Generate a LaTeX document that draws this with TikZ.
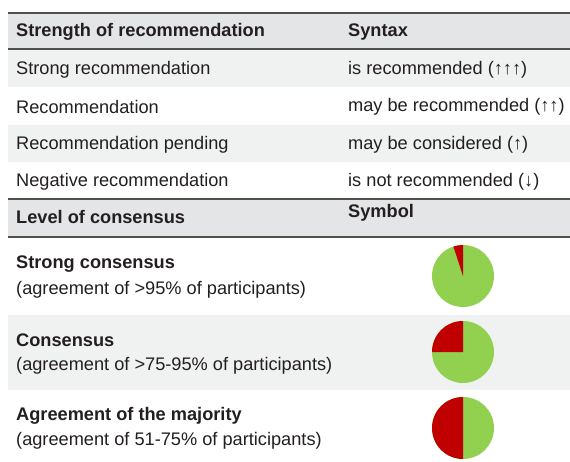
\documentclass[tikz,border=0pt]{standalone}
\usepackage{fontspec}
\setmainfont{Liberation Sans}
\usepackage{xcolor}
\usetikzlibrary{calc,positioning}
\definecolor{color_header}{HTML}{e4e5e7}
\definecolor{color_shaded}{HTML}{f0f1f1}
\definecolor{color_rule}{HTML}{50504c}
\definecolor{color_text}{HTML}{231f20}
\definecolor{color_agree}{HTML}{92d050}
\definecolor{color_disagree}{HTML}{c00000}

\tikzset{
	cell/.style={anchor=west,inner sep=0pt,text=color_text,font=\fontsize{18.2}{21}\selectfont},
	headcell/.style={cell,font=\fontsize{18.2}{21}\selectfont\bfseries},
	rule/.style={line width=1.6pt,color_rule}
}

\begin{document}
\begin{tikzpicture}[x=1pt,y=1pt]
				\useasboundingbox (0, 0) rectangle (570, 461);
				% Corners
				\coordinate (TL) at (8, 448);
				\coordinate (TR) at (570, 448);

				% Backgrounds
				\fill[color_header] (8, 448) rectangle (570, 412);
				\fill[color_shaded] (8, 412) rectangle (570, 374);
				\fill[color_shaded] (8, 336) rectangle (570, 299);
				\fill[color_header] (8, 262) rectangle (570, 224);
				\fill[color_shaded] (8, 146) rectangle (570, 71);

				% Rules
				\draw[rule] (TL) -- (TR);
				\draw[rule] (8, 412) -- (570, 412);
				\draw[rule] (8, 262) -- (570, 262);
				\draw[rule] (8, 224) -- (570, 224);

				% Recommendation
				\node[headcell] (hdStrength) at (16, 429) {Strength of recommendation};
				\node[headcell] (hdSyntax) at (348, 429) {Syntax};
				\node[cell] (strongRec) at (16, 391) {Strong recommendation};
				\node[cell] (strongSyn) at (348, 391) {is recommended (↑↑↑)};
				\node[cell] (rec) at (16, 354) {Recommendation};
				\node[cell] (recSyn) at (348, 354) {may be recommended (↑↑)};
				\node[cell] (pendRec) at (16, 316) {Recommendation pending};
				\node[cell] (pendSyn) at (348, 316) {may be considered (↑)};
				\node[cell] (negRec) at (16, 279) {Negative recommendation};
				\node[cell] (negSyn) at (348, 279) {is not recommended (↓)};

				% Consensus
				\node[headcell] (hdLevel) at (16, 244) {Level of consensus};
				\node[headcell] (hdSymbol) at (348, 248) {Symbol};
				\node[headcell] (strongCons) at (16, 197) {Strong consensus};
				\node[cell] (strongAgr) at (16, 171) {(agreement of >95\% of participants)};
				\node[headcell] (cons) at (16, 121) {Consensus};
				\node[cell] (consAgr) at (16, 95) {(agreement of >75-95\% of participants)};
				\node[headcell] (major) at (16, 45) {Agreement of the majority};
				\node[cell] (majorAgr) at (16, 20) {(agreement of 51-75\% of participants)};

				% Pies
				\coordinate (PA) at (463, 185);
				\coordinate (PB) at (463, 109);
				\coordinate (PC) at (463, 33);
				\foreach \p/\a in {PA/108, PB/180, PC/270}{
					\fill[color_agree] (\p) circle(31);
					\fill[color_disagree]
						(\p) -- ++(90:31) arc[start angle=90, end angle=\a, radius=31] -- cycle
						;
				}
			\end{tikzpicture}
\end{document}
